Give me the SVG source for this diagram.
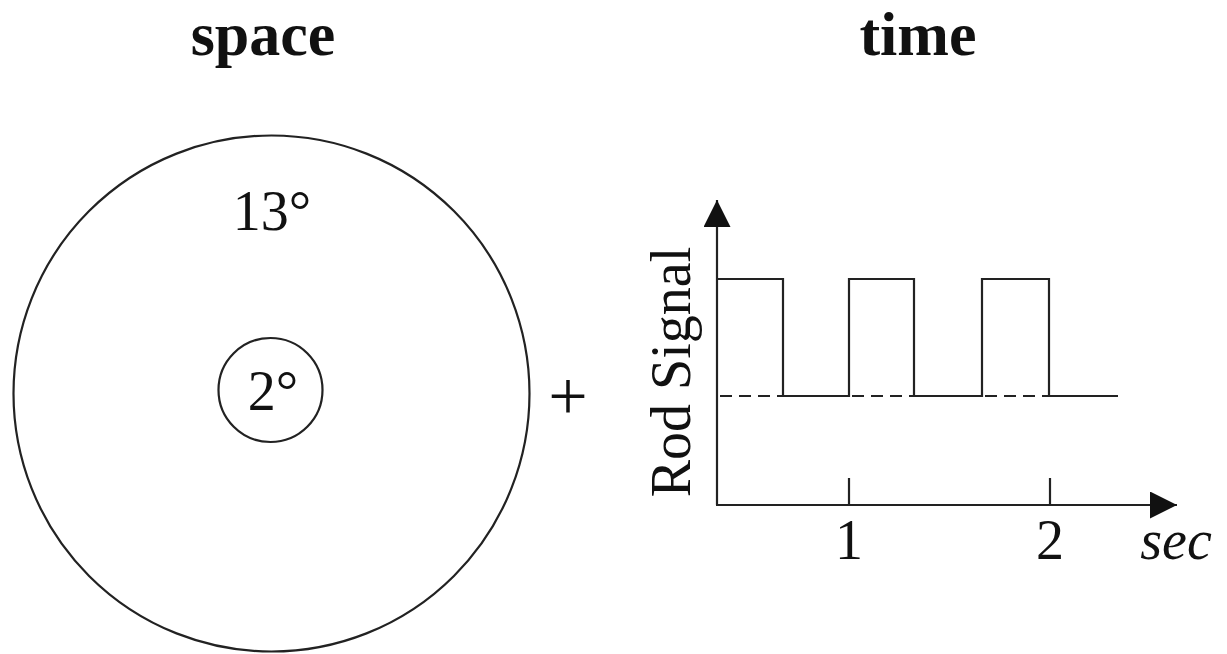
<svg xmlns="http://www.w3.org/2000/svg" width="1227" height="654" viewBox="0 0 1227 654">
<style>
.t{font-family:"Liberation Serif","Times New Roman",serif;fill:#111}
.b{font-weight:bold;font-size:62px}
.r{font-size:56px}
.ln{stroke:#222;stroke-width:2.2;fill:none}
.ds{stroke:#222;stroke-width:2.2;fill:none;stroke-dasharray:12 7}
</style>
<defs>
<marker id="ah" viewBox="0 0 27 27" refX="27" refY="13.5" markerWidth="27" markerHeight="27" markerUnits="userSpaceOnUse" orient="auto">
<path d="M0,0 L27,13.5 L0,27 Z" fill="#111"/>
</marker>
</defs>
<rect width="1227" height="654" fill="#fff"/>
<text class="t b" x="263" y="55" text-anchor="middle">space</text>
<text class="t b" x="918" y="55" text-anchor="middle">time</text>
<g id="outer-circle">
<circle class="ln" cx="271.5" cy="393.5" r="258"/>
<text class="t r" x="272" y="230" text-anchor="middle">13°</text>
</g>
<g id="inner-circle">
<circle class="ln" cx="270.5" cy="390" r="52"/>
<text class="t r" x="273" y="410" text-anchor="middle">2°</text>
</g>
<text class="t" x="568" y="420" text-anchor="middle" font-size="70">+</text>
<g id="plot">
<text class="t r" transform="translate(690,372) rotate(-90)" text-anchor="middle">Rod Signal</text>
<text class="t r" x="849" y="559" text-anchor="middle">1</text>
<text class="t r" x="1050" y="559" text-anchor="middle">2</text>
<text class="t r" x="1176" y="559" text-anchor="middle" font-style="italic">sec</text>
</g>
<g id="connectors">
<line class="ln" x1="717" y1="505" x2="717" y2="200" marker-end="url(#ah)"/>
<line class="ln" x1="716" y1="505" x2="1177" y2="505" marker-end="url(#ah)"/>
<line class="ln" x1="849" y1="478" x2="849" y2="505"/>
<line class="ln" x1="1050" y1="478" x2="1050" y2="505"/>
<polyline class="ln" points="717,279 783,279 783,396 849,396 849,279 914,279 914,396 982,396 982,279 1049,279 1049,396 1118,396"/>
<line class="ds" x1="720" y1="396" x2="783" y2="396"/>
<line class="ds" x1="852" y1="396" x2="914" y2="396"/>
<line class="ds" x1="985" y1="396" x2="1049" y2="396"/>
</g>
</svg>
